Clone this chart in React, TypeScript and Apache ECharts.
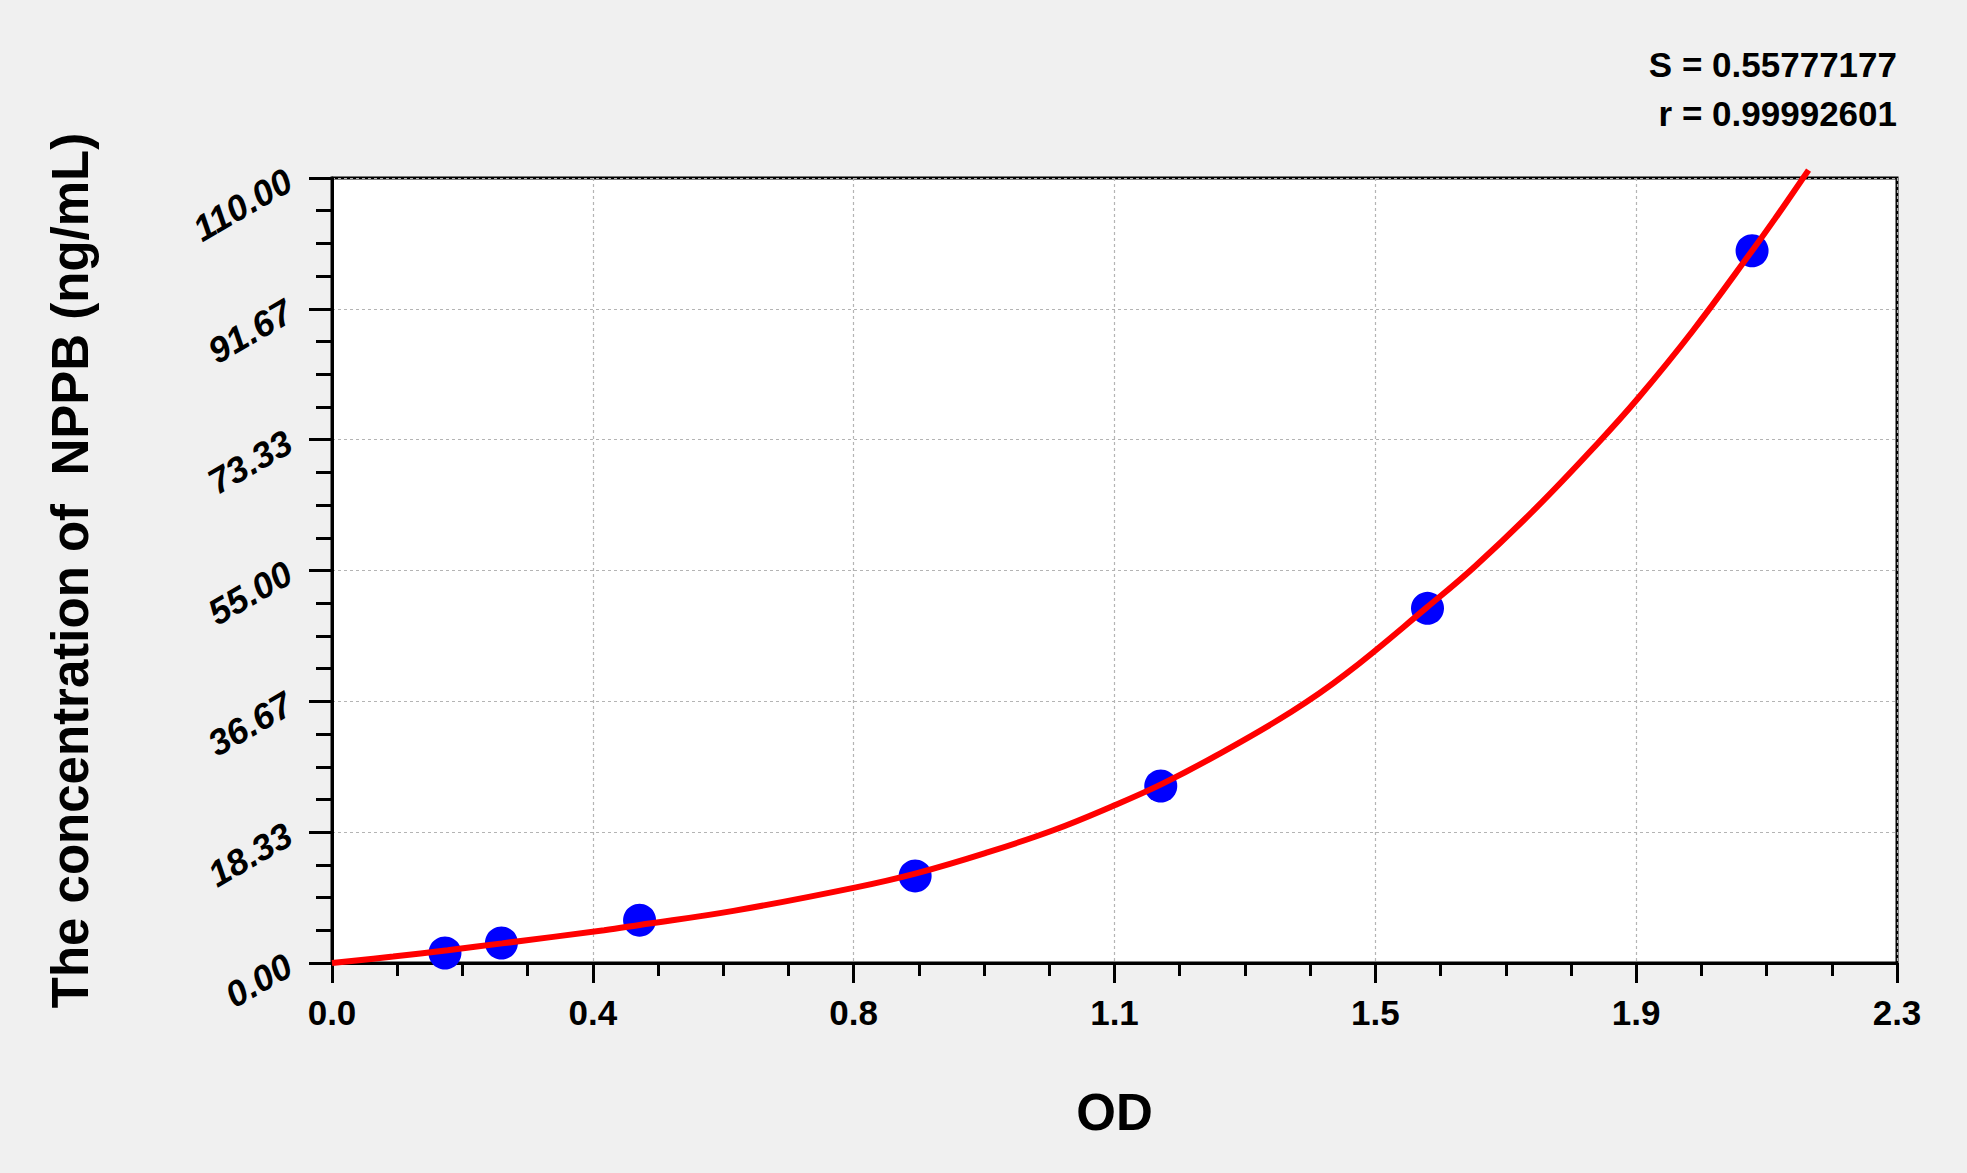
import React, { useEffect, useRef } from "react";
import * as echarts from "echarts";

// Standards (scatter points)
const stdOD = [0.166, 0.249, 0.452, 0.857, 1.218, 1.61, 2.087];
const stdConc = [1.4, 2.8, 6.0, 12.2, 24.8, 49.7, 99.8];

// Fitted curve
const curveOD = [0, 0.09, 0.17, 0.25, 0.4, 0.45, 0.59, 0.77, 0.86, 0.96, 1.06, 1.15, 1.22, 1.3, 1.41, 1.49, 1.61, 1.68, 1.77, 1.86, 1.92, 2.0, 2.09, 2.12, 2.17];
const curveConc = [0, 0.9, 1.8, 2.75, 4.6, 5.3, 7.3, 10.6, 12.6, 15.4, 18.6, 22.1, 25.1, 29.1, 35.2, 40.5, 49.9, 55.6, 63.8, 72.8, 79.2, 88.6, 100.2, 104.2, 111.1];

// Tick labels
const xTickLabels = ["0.0", "0.4", "0.8", "1.1", "1.5", "1.9", "2.3"];
const yTickLabels = ["0.00", "18.33", "36.67", "55.00", "73.33", "91.67", "110.00"];

const statS = "S = 0.55777177";
const statR = "r = 0.99992601";
const xTitle = "OD";
const yTitle = "The concentration of  NPPB (ng/mL)";

const X_MAX = 2.3;
const Y_MAX = 110;
const X_INT = X_MAX / 6;
const Y_INT = Y_MAX / 6;

const FONT = "'Liberation Sans', Arial, Helvetica, sans-serif";

export default function App() {
  const ref = useRef<HTMLDivElement>(null);

  useEffect(() => {
    document.body.style.margin = "0";
    const chart = echarts.init(ref.current!, null, { renderer: "svg" });
    const gridLine = { show: true, lineStyle: { color: "#b4b4b4", width: 1.2, type: [3, 3] as any } };
    chart.setOption({
      animation: false,
      backgroundColor: "#f0f0f0",
      grid: {
        left: 332,
        right: 70,
        top: 178,
        bottom: 210,
        show: true,
        backgroundColor: "#ffffff",
        borderColor: "#000000",
        borderWidth: 3,
      },
      xAxis: {
        type: "value",
        min: 0,
        max: X_MAX,
        interval: X_INT,
        name: xTitle,
        nameLocation: "middle",
        nameGap: 124,
        nameTextStyle: { fontFamily: FONT, fontWeight: "bold", fontSize: 51, color: "#000" },
        axisLine: { show: true, onZero: false, lineStyle: { color: "#000", width: 3 } },
        axisTick: { show: true, inside: false, length: 20, lineStyle: { color: "#000", width: 3 } },
        minorTick: { show: true, splitNumber: 4, length: 13, lineStyle: { color: "#000", width: 3 } },
        axisLabel: {
          margin: 32,
          fontFamily: FONT,
          fontWeight: "bold",
          fontSize: 35,
          color: "#000",
          formatter: (v: number) => xTickLabels[Math.round(v / X_INT)] ?? "",
        },
        splitLine: gridLine,
      },
      yAxis: {
        type: "value",
        min: 0,
        max: Y_MAX,
        interval: Y_INT,
        name: yTitle,
        nameLocation: "middle",
        nameRotate: 90,
        nameGap: 236,
        nameTextStyle: { fontFamily: FONT, fontWeight: "bold", fontSize: 51, color: "#000" },
        axisLine: { show: true, onZero: false, lineStyle: { color: "#000", width: 3 } },
        axisTick: { show: true, inside: false, length: 23, lineStyle: { color: "#000", width: 3 } },
        minorTick: { show: true, splitNumber: 4, length: 16, lineStyle: { color: "#000", width: 3 } },
        axisLabel: {
          margin: 43,
          rotate: 30,
          fontFamily: FONT,
          fontWeight: "bold",
          fontStyle: "italic",
          fontSize: 36,
          color: "#000",
          formatter: (v: number) => yTickLabels[Math.round(v / Y_INT)] ?? "",
        },
        splitLine: gridLine,
      },
      graphic: [
        {
          type: "text",
          right: 70,
          top: 47,
          style: { text: statS, fontFamily: FONT, fontWeight: "bold", fontSize: 35, fill: "#000", textAlign: "right" },
        },
        {
          type: "text",
          right: 70,
          top: 96,
          style: { text: statR, fontFamily: FONT, fontWeight: "bold", fontSize: 35, fill: "#000", textAlign: "right" },
        },
      ],
      series: [
        {
          type: "scatter",
          data: stdOD.map((x, i) => [x, stdConc[i]]),
          symbol: "circle",
          symbolSize: 33,
          itemStyle: { color: "#0000ff", opacity: 1 },
          z: 2,
        },
        {
          type: "line",
          data: curveOD.map((x, i) => [x, curveConc[i]]),
          smooth: 0.4,
          showSymbol: false,
          clip: false,
          lineStyle: { color: "#ff0000", width: 6 },
          z: 3,
        },
      ],
    });
    return () => chart.dispose();
  }, []);

  return (
    <div
      ref={ref}
      style={{ position: "absolute", left: 0, top: 0, width: 1967, height: 1173, background: "#f0f0f0" }}
    />
  );
}
